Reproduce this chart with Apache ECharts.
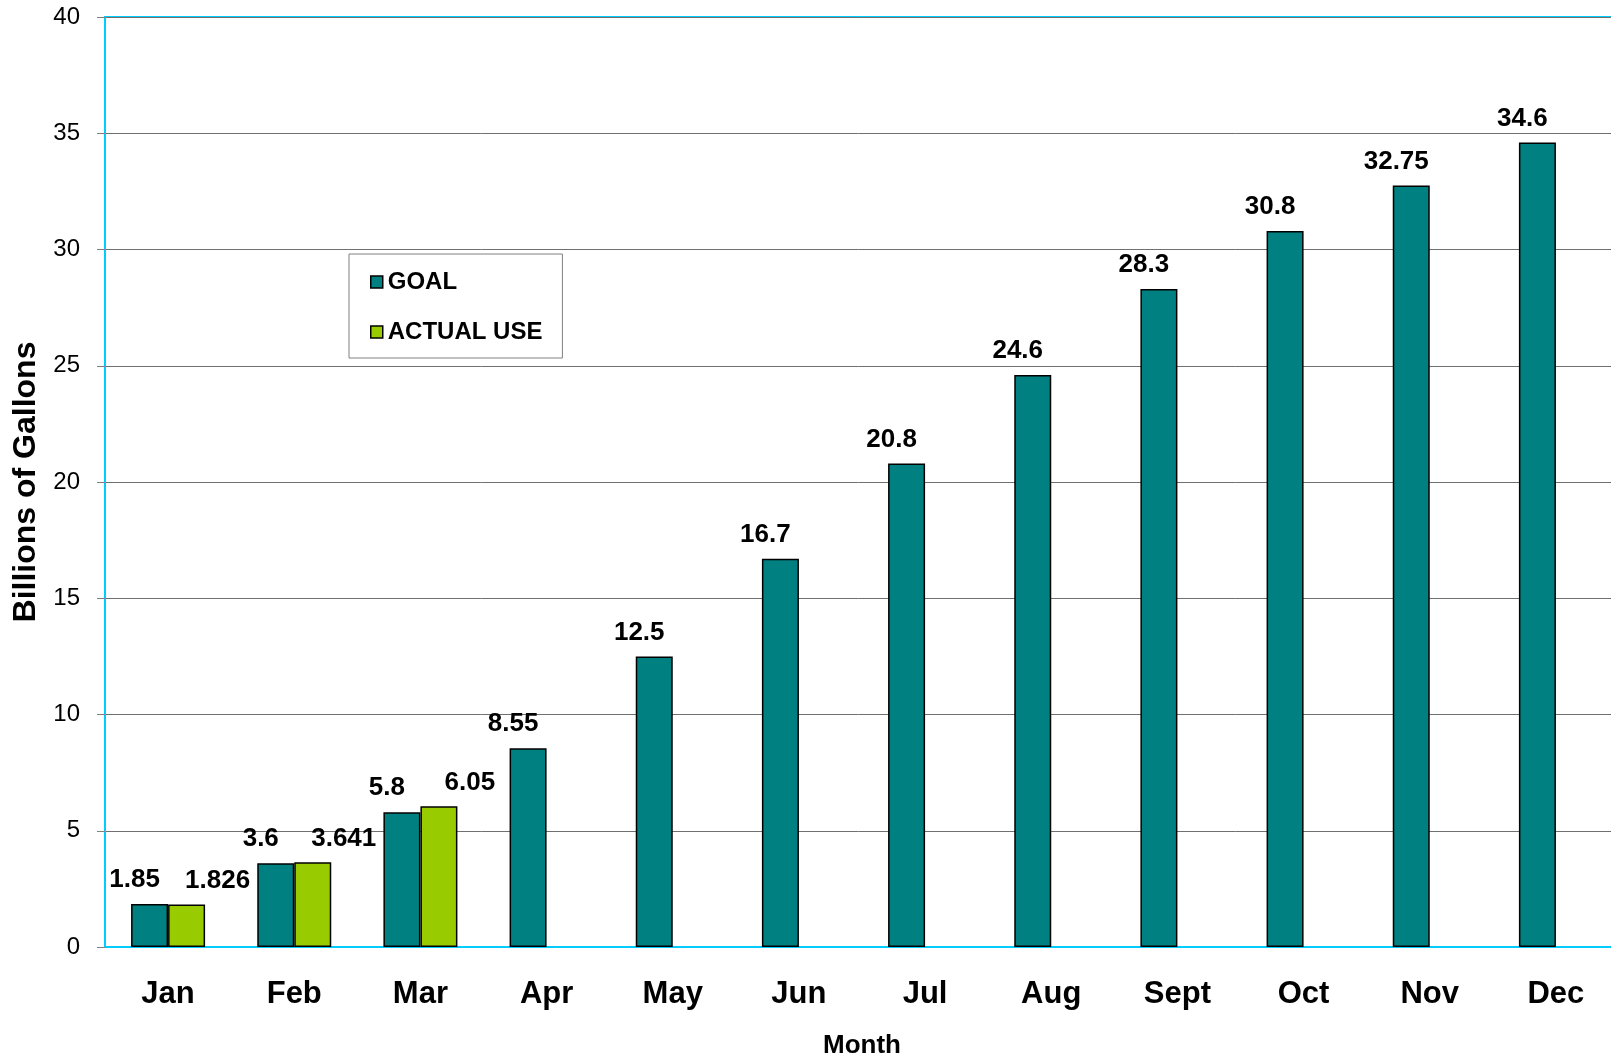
<!DOCTYPE html>
<html>
<head>
<meta charset="utf-8">
<title>Goal vs Actual Use</title>
<script src="https://cdn.jsdelivr.net/npm/echarts@6/dist/echarts.min.js"></script>
<style>
  html, body { margin: 0; padding: 0; background: #fff; }
  #chart { width: 1611px; height: 1060px; }
</style>
</head>
<body>
<div id="chart"></div>
<script>
// data
const months = ['Jan', 'Feb', 'Mar', 'Apr', 'May', 'Jun', 'Jul', 'Aug', 'Sept', 'Oct', 'Nov', 'Dec'];
const goal = [1.85, 3.6, 5.8, 8.55, 12.5, 16.7, 20.8, 24.6, 28.3, 30.8, 32.75, 34.6];
const actualUse = [1.826, 3.641, 6.05, null, null, null, null, null, null, null, null, null];
const yTicks = [0, 5, 10, 15, 20, 25, 30, 35, 40];

const font = "'Liberation Sans', Arial, sans-serif";
const cyan = '#00CCFF';
const gridGray = '#707070';

const chart = echarts.init(document.getElementById('chart'));
chart.setOption({
  animation: false,
  textStyle: { fontFamily: font },
  // plot box runs a bit past the right edge, like the original
  grid: {
    left: 105, top: 17, right: -8, bottom: 113,
    outerBoundsMode: 'none',
    containLabel: false,
    show: true, borderColor: cyan, borderWidth: 2, backgroundColor: '#fff'
  },
  legend: {
    orient: 'vertical',
    left: 349, top: 254,
    padding: [16, 20, 14, 21],
    itemGap: 26,
    itemWidth: 12, itemHeight: 12,
    icon: 'rect',
    backgroundColor: '#fff',
    borderColor: '#808080', borderWidth: 1,
    textStyle: { fontFamily: font, fontSize: 24, fontWeight: 'bold', color: '#000' },
    itemStyle: { borderColor: '#000', borderWidth: 1.5 }
  },
  xAxis: {
    type: 'category',
    data: months,
    name: 'Month',
    nameLocation: 'middle',
    nameGap: 86,
    nameTextStyle: { fontFamily: font, fontSize: 26, fontWeight: 'bold', color: '#000' },
    axisLine: { lineStyle: { color: cyan, width: 2 } },
    axisTick: { interval: 0, length: 8, lineStyle: { color: '#808080' } },
    axisLabel: { interval: 0, margin: 32, fontFamily: font, fontSize: 31, fontWeight: 'bold', color: '#000' }
  },
  yAxis: {
    type: 'value',
    min: yTicks[0],
    max: yTicks[yTicks.length - 1],
    interval: 5,
    name: 'Billions of Gallons',
    nameLocation: 'middle',
    nameGap: 62,
    nameRotate: 90,
    nameTextStyle: { fontFamily: font, fontSize: 32, fontWeight: 'bold', color: '#000' },
    axisLine: { show: true, lineStyle: { color: cyan, width: 2 } },
    axisTick: { show: true, length: 8, lineStyle: { color: '#808080' } },
    axisLabel: { margin: 25, fontFamily: font, fontSize: 24, color: '#000' },
    splitLine: { lineStyle: { color: gridGray, width: 1 } }
  },
  series: [
    {
      name: 'GOAL',
      type: 'bar',
      data: goal,
      barWidth: 37,
      barGap: '0%',
      itemStyle: { color: '#008080', borderColor: '#000', borderWidth: 1.5 },
      label: {
        show: true, position: 'top', distance: 11, offset: [-15, 0],
        fontFamily: font, fontSize: 26, fontWeight: 'bold', color: '#000'
      }
    },
    {
      name: 'ACTUAL USE',
      type: 'bar',
      data: actualUse,
      barWidth: 37,
      itemStyle: { color: '#99CC00', borderColor: '#000', borderWidth: 1.5 },
      label: {
        show: true, position: 'top', distance: 11, offset: [31, 0],
        fontFamily: font, fontSize: 26, fontWeight: 'bold', color: '#000'
      }
    }
  ]
});
</script>
</body>
</html>
